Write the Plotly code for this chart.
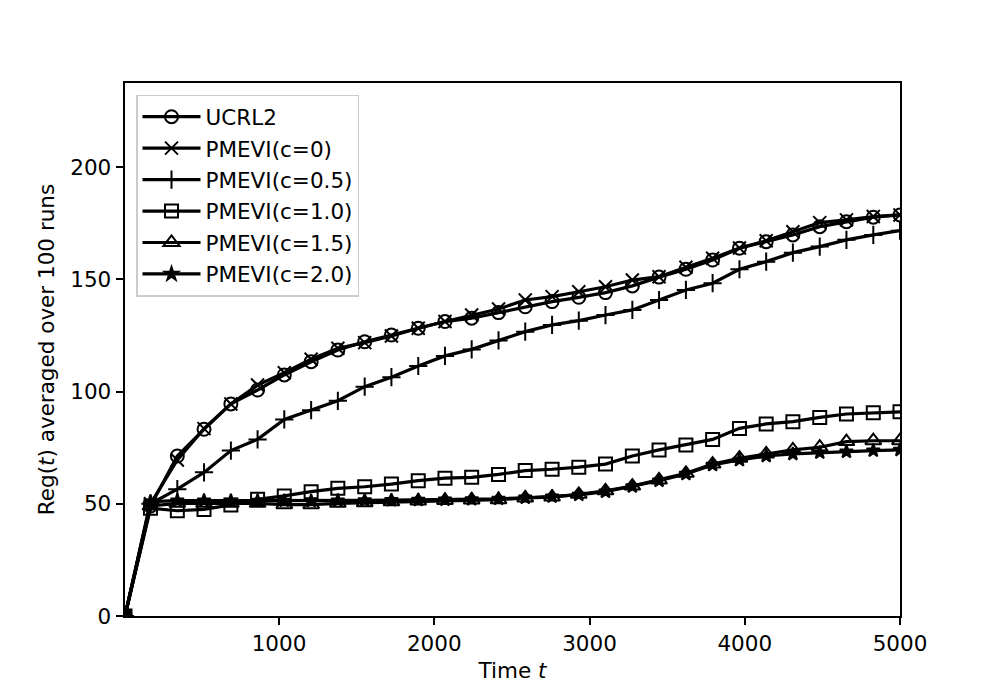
import plotly.graph_objects as go

# time steps at which regret was recorded
times = [8, 172, 345, 517, 690, 862, 1034, 1207, 1379, 1552, 1724, 1897, 2069, 2241, 2414,
         2586, 2759, 2931, 3103, 3276, 3448, 3621, 3793, 3966, 4138, 4310, 4483, 4655, 4828, 5000]

ucrl2 = [0, 49, 71.3, 83.2, 94.5, 100.7, 107.4, 113.3, 118.5, 122.2, 125.2, 128.2, 131.2, 132.7, 135.2,
         137.8, 140.1, 142.0, 144.1, 147.1, 151.0, 154.5, 158.6, 163.9, 166.8, 169.8, 173.5, 175.7, 177.7, 178.7]
pmevi_c0 = [0, 50, 69.5, 83.5, 94.5, 102.9, 108.4, 114.4, 119.3, 121.8, 124.8, 128.2, 131.2, 134.1, 136.8,
            140.8, 142.3, 144.5, 146.7, 149.7, 151.2, 155.4, 159.4, 164.0, 167.2, 171.2, 175.3, 176.5, 178.0, 178.7]
pmevi_c05 = [0, 50, 56.5, 64.0, 73.7, 78.7, 87.6, 91.7, 95.9, 102.2, 106.4, 111.4, 115.9, 118.8, 122.8,
             126.7, 129.7, 131.6, 134.1, 136.4, 140.8, 145.3, 148.3, 154.5, 157.9, 161.9, 164.6, 167.6, 169.8, 171.7]
pmevi_c10 = [0, 48, 46.9, 47.5, 49.5, 52.0, 53.5, 55.4, 56.9, 57.6, 58.8, 60.3, 61.4, 61.8, 63.1,
             64.8, 65.4, 66.3, 67.7, 71.3, 74.0, 76.2, 78.7, 83.6, 85.6, 86.6, 88.5, 90.0, 90.6, 91.0]
pmevi_c15 = [0, 49, 50.2, 50.2, 50.2, 50.2, 49.6, 49.6, 50.2, 50.5, 50.9, 51.2, 51.5, 51.7, 51.8,
             52.6, 53.0, 54.2, 55.8, 57.9, 60.6, 63.6, 67.7, 70.3, 72.2, 74.0, 75.2, 77.7, 78.1, 78.1]
pmevi_c20 = [0, 51, 51.4, 51.4, 51.3, 51.3, 51.3, 51.2, 51.4, 51.5, 51.6, 51.7, 51.8, 52.0, 52.2,
             52.7, 53.2, 54.0, 55.4, 57.7, 60.3, 63.3, 67.3, 69.5, 71.3, 72.2, 72.8, 73.2, 73.7, 74.0]

series = [
    ("UCRL2", ucrl2, "circle-open", 13),
    ("PMEVI(c=0)", pmevi_c0, "x-thin-open", 13),
    ("PMEVI(c=0.5)", pmevi_c05, "cross-thin-open", 13),
    ("PMEVI(c=1.0)", pmevi_c10, "square-open", 13),
    ("PMEVI(c=1.5)", pmevi_c15, "triangle-up-open", 14),
    ("PMEVI(c=2.0)", pmevi_c20, "star", 10),
]

FONT = "DejaVu Sans"

fig = go.Figure()
for name, values, symbol, msize in series:
    fig.add_trace(
        go.Scatter(
            x=times,
            y=values,
            name=name,
            legendgroup=name,
            mode="lines+markers",
            line=dict(color="black", width=3.2),
            marker=dict(symbol=symbol, size=msize,
                        color="black", line=dict(color="black", width=2)),
        )
    )

axis_style = dict(
    showline=True, linecolor="black", linewidth=1.7, mirror=True,
    ticks="outside", ticklen=7.6, tickwidth=1.7, tickcolor="black",
    showgrid=False, zeroline=False,
    tickfont=dict(family=FONT, size=21.5, color="black"),
)

# the page body adds about 8px offset, so margins are shifted to compensate
fig.update_layout(
    width=1000, height=693,
    margin=dict(l=117, r=108, t=75, b=85),
    paper_bgcolor="white", plot_bgcolor="white",
    font=dict(family=FONT, size=21.5, color="black"),
    showlegend=True,
    legend=dict(
        x=0.0142, y=0.978, xanchor="left", yanchor="top",
        bordercolor="rgb(204,204,204)", borderwidth=1.5,
        bgcolor="rgba(255,255,255,0.8)",
        font=dict(family=FONT, size=21.5, color="black"),
        traceorder="grouped", tracegroupgap=0.5, itemwidth=58,
    ),
    xaxis=dict(axis_style, range=[8, 5000], dtick=1000, tick0=0,
               title=dict(text="Time <i>t</i>", font=dict(family=FONT, size=21.5), standoff=8)),
    yaxis=dict(axis_style, range=[0, 237.5], dtick=50, tick0=0,
               title=dict(text="Reg(<i>t</i>) averaged over 100 runs",
                          font=dict(family=FONT, size=21.5), standoff=10)),
)

fig.write_html("out.html")
